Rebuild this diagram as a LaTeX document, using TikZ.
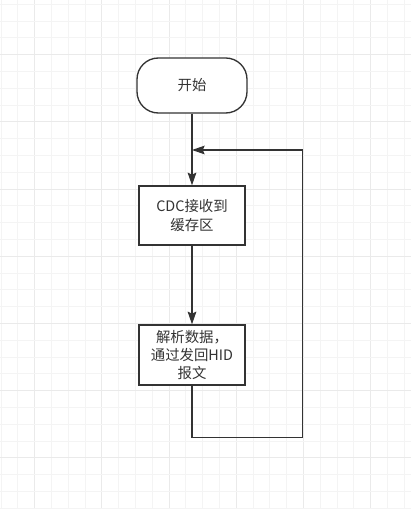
\documentclass[tikz,border=0pt]{standalone}
\usepackage{fontspec}
\setmainfont{Noto Sans CJK SC}
\usetikzlibrary{arrows.meta}
\definecolor{gridminor}{HTML}{F4F4F4}
\definecolor{gridmajor}{HTML}{EAEAEA}
\definecolor{ink}{HTML}{333333}
\tikzset{
  stepbox/.style={draw=ink, line width=1pt, fill=white, text=ink, align=center,
    font=\fontsize{10.8pt}{13.8pt}\selectfont, inner sep=0pt},
  arr/.style={draw=ink, line width=1pt, -{Stealth[length=9.5pt,width=6.5pt,inset=1.5pt]}},
  minorline/.style={draw=gridminor, line width=0.75pt},
  majorline/.style={draw=gridmajor, line width=0.75pt}
}
\begin{document}
\begin{tikzpicture}[x=0.75pt,y=-0.75pt]
\useasboundingbox (0,0) rectangle (411,509);
\fill[white] (0,0) rectangle (411,509);
% grid
\foreach \k in {0,...,24} {
  \pgfmathsetmacro{\xx}{1+16.8*\k}
  \pgfmathtruncatemacro{\m}{mod(\k,4)}
  \ifnum\m=2
    \draw[majorline] (\xx,0) -- (\xx,509);
  \else
    \draw[minorline] (\xx,0) -- (\xx,509);
  \fi
}
\foreach \k in {0,...,30} {
  \pgfmathsetmacro{\yy}{4.3+16.8*\k}
  \pgfmathtruncatemacro{\m}{mod(\k,4)}
  \ifnum\m=3
    \draw[majorline] (0,\yy) -- (411,\yy);
  \else
    \draw[minorline] (0,\yy) -- (411,\yy);
  \fi
}
% nodes
\node[stepbox, rounded corners=16pt, minimum width=82.5pt, minimum height=41.25pt] (start) at (192,85.5) {开始};
\node[stepbox, minimum width=79.5pt, minimum height=44.25pt] (box1) at (192,215.5) {CDC接收到\\缓存区};
\node[stepbox, minimum width=79.5pt, minimum height=45pt] (box2) at (192,355) {解析数据，\\通过发回HID\\报文};
% connectors
\coordinate (j) at (192,150);
\coordinate (c1) at (192,437.7);
\coordinate (c2) at (302.3,437.7);
\coordinate (c3) at (302.3,150);
\draw[arr] (start) -- (box1);
\draw[arr] (box1) -- (box2);
\draw[arr] (box2.south) -- (c1) -- (c2) -- (c3) -- (j);
\end{tikzpicture}
\end{document}
